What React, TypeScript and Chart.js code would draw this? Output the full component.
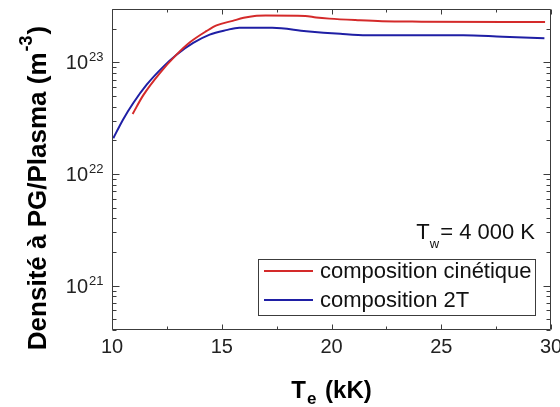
import React, { useEffect, useRef } from 'react';
import { Chart, registerables } from 'chart.js';

Chart.register(...registerables);

// ---- Data ----
const tempCinetique = [10.94, 11.42, 12.18, 12.94, 13.55, 14.3, 14.76, 15.5, 16.0, 16.5, 17.0, 18.8, 19.3, 19.9, 21.2, 22.3, 24.1, 29.73];
const densCinetique = [3.44e22, 5.05e22, 8.0e22, 1.17e23, 1.51e23, 1.9e23, 2.14e23, 2.35e23, 2.5e23, 2.6e23, 2.62e23, 2.6e23, 2.52e23, 2.46e23, 2.38e23, 2.33e23, 2.31e23, 2.29e23];
const temp2T = [10.06, 10.5, 10.97, 11.58, 12.33, 12.94, 13.7, 14.45, 15.2, 15.8, 17.3, 18.85, 20.4, 21.6, 26.0, 27.8, 29.7];
const dens2T = [2.09e22, 3.06e22, 4.32e22, 6.3e22, 9.1e22, 1.17e23, 1.49e23, 1.77e23, 1.94e23, 2.04e23, 2.04e23, 1.9e23, 1.8e23, 1.75e23, 1.75e23, 1.69e23, 1.64e23];
const seriesLabels = ['composition cinétique', 'composition 2T'];
const seriesColors = ['#d42a2a', '#1f1fa5'];
const xTicks = [10, 15, 20, 25, 30];
const xMinorTicks = [12.5, 17.5, 22.5, 27.5];
const yExponents = [21, 22, 23];
const xRange = [10, 30];
const yRange = [4e20, 3e23];
const annotationMain = 'T';
const annotationSub = 'w';
const annotationRest = '= 4 000 K';

const FONT = "'Liberation Sans', Arial, sans-serif";

type Seg = { text: string; font: string; dy?: number; gap?: number };

function drawRich(ctx: CanvasRenderingContext2D, segs: Seg[], x: number, y: number, align: 'left' | 'center' | 'right') {
  let total = 0;
  const widths = segs.map((s) => {
    ctx.font = s.font;
    const w = ctx.measureText(s.text).width + (s.gap || 0);
    total += w;
    return w;
  });
  let cur = align === 'left' ? x : align === 'right' ? x - total : x - total / 2;
  ctx.textAlign = 'left';
  ctx.textBaseline = 'alphabetic';
  segs.forEach((s, i) => {
    ctx.font = s.font;
    ctx.fillText(s.text, cur, y + (s.dy || 0));
    cur += widths[i];
  });
}

const overlayPlugin = {
  id: 'overlay',
  afterDraw(chart: any) {
    const { ctx, chartArea: a, scales } = chart;
    const xs = scales.x;
    const ys = scales.y;
    const L = Math.round(a.left) + 0.5;
    const R = Math.round(a.right) - 0.5;
    const T = Math.round(a.top) + 0.5;
    const B = Math.round(a.bottom) - 0.5;
    ctx.save();
    ctx.strokeStyle = '#3c3c3c';
    ctx.lineWidth = 1;
    ctx.beginPath();
    ctx.rect(L, T, R - L, B - T);
    ctx.stroke();

    // x ticks (inward, bottom and top)
    ctx.beginPath();
    xTicks.forEach((v) => {
      const p = Math.round(xs.getPixelForValue(v)) + 0.5;
      ctx.moveTo(p, B); ctx.lineTo(p, B - 5);
      ctx.moveTo(p, T); ctx.lineTo(p, T + 5);
    });
    xMinorTicks.forEach((v) => {
      const p = Math.round(xs.getPixelForValue(v)) + 0.5;
      ctx.moveTo(p, B); ctx.lineTo(p, B - 3);
      ctx.moveTo(p, T); ctx.lineTo(p, T + 3);
    });
    // y ticks (log, inward, left and right)
    for (let e = 20; e <= 23; e++) {
      for (let m = 1; m <= 9; m++) {
        const v = m * Math.pow(10, e);
        if (v < yRange[0] || v > yRange[1]) continue;
        const p = Math.round(ys.getPixelForValue(v)) + 0.5;
        const len = m === 1 ? 7 : 4;
        ctx.moveTo(L, p); ctx.lineTo(L + len, p);
        ctx.moveTo(R, p); ctx.lineTo(R - len, p);
      }
    }
    ctx.stroke();

    // y tick labels with superscripts
    ctx.fillStyle = '#222';
    yExponents.forEach((ex) => {
      const p = ys.getPixelForValue(Math.pow(10, ex));
      ctx.font = `20px ${FONT}`;
      ctx.textAlign = 'right';
      ctx.textBaseline = 'alphabetic';
      ctx.fillText('10', a.left - 24, p + 7);
      ctx.font = `13px ${FONT}`;
      ctx.textAlign = 'left';
      ctx.fillText(String(ex), a.left - 23, p - 1);
    });

    // x title
    ctx.fillStyle = '#000';
    drawRich(ctx, [
      { text: 'T', font: `bold 24px ${FONT}`, gap: 1 },
      { text: 'e', font: `bold 17px ${FONT}`, dy: 6, gap: 2 },
      { text: ' (kK)', font: `bold 24px ${FONT}` },
    ], (a.left + a.right) / 2, 398, 'center');

    // y title (rotated)
    ctx.save();
    ctx.translate(46, 188);
    ctx.rotate(-Math.PI / 2);
    drawRich(ctx, [
      { text: 'Densité à PG/Plasma (m', font: `bold 26px ${FONT}`, gap: 1 },
      { text: '-3', font: `bold 18px ${FONT}`, dy: -14, gap: 1 },
      { text: ')', font: `bold 26px ${FONT}` },
    ], 0, 0, 'center');
    ctx.restore();

    // annotation
    ctx.fillStyle = '#111';
    drawRich(ctx, [
      { text: annotationMain, font: `22px ${FONT}` },
      { text: annotationSub, font: `13px ${FONT}`, dy: 9, gap: 1 },
      { text: annotationRest, font: `22px ${FONT}` },
    ], 535, 239, 'right');

    // legend box
    const lx = 258.5, ly = 259.5, lw = 277, lh = 56;
    ctx.fillStyle = '#fff';
    ctx.fillRect(lx, ly, lw, lh);
    ctx.strokeStyle = '#3c3c3c';
    ctx.lineWidth = 1;
    ctx.strokeRect(lx, ly, lw, lh);
    const rows = [271, 300];
    chart.data.datasets.forEach((ds: any, i: number) => {
      const y = rows[i];
      ctx.strokeStyle = ds.borderColor;
      ctx.lineWidth = 2;
      ctx.beginPath();
      ctx.moveTo(264, y); ctx.lineTo(313, y);
      ctx.stroke();
      ctx.fillStyle = '#111';
      ctx.font = `22px ${FONT}`;
      ctx.textAlign = 'left';
      ctx.textBaseline = 'middle';
      ctx.fillText(ds.label, 320, y + 1);
    });
    ctx.restore();
  },
};

export default function App() {
  const ref = useRef<HTMLCanvasElement | null>(null);
  useEffect(() => {
    if (!ref.current) return;
    const chart = new Chart(ref.current, {
      type: 'line',
      data: {
        datasets: [
          {
            label: seriesLabels[0],
            data: tempCinetique.map((t, i) => ({ x: t, y: densCinetique[i] })),
            borderColor: seriesColors[0],
            backgroundColor: seriesColors[0],
            borderWidth: 2,
            pointRadius: 0,
            cubicInterpolationMode: 'monotone',
          },
          {
            label: seriesLabels[1],
            data: temp2T.map((t, i) => ({ x: t, y: dens2T[i] })),
            borderColor: seriesColors[1],
            backgroundColor: seriesColors[1],
            borderWidth: 2,
            pointRadius: 0,
            cubicInterpolationMode: 'monotone',
          },
        ],
      },
      options: {
        animation: false,
        responsive: false,
        devicePixelRatio: 1,
        layout: { padding: { top: 9, right: 9, left: 0, bottom: 0 } },
        plugins: { legend: { display: false }, tooltip: { enabled: false } },
        scales: {
          x: {
            type: 'linear',
            min: xRange[0],
            max: xRange[1],
            grid: { display: false, drawTicks: false },
            border: { display: false },
            ticks: {
              stepSize: 5,
              padding: 5,
              color: '#222',
              font: { family: FONT, size: 20 },
              maxRotation: 0,
              autoSkip: false,
              callback: (v: any) => (xTicks.includes(Number(v)) ? String(v) : ''),
            },
            afterFit: (s: any) => {
              s.height = 77;
              s.paddingLeft = 0;
              s.paddingRight = 0;
            },
          },
          y: {
            type: 'logarithmic',
            min: yRange[0],
            max: yRange[1],
            grid: { display: false, drawTicks: false },
            border: { display: false },
            ticks: { display: false },
            afterFit: (s: any) => {
              s.width = 112;
            },
          },
        },
      },
      plugins: [overlayPlugin],
    } as any);
    return () => chart.destroy();
  }, []);
  return (
    <div style={{ position: 'fixed', left: 0, top: 0, width: 560, height: 407, background: '#fff' }}>
      <canvas ref={ref} width={560} height={407} style={{ display: 'block' }} />
    </div>
  );
}
